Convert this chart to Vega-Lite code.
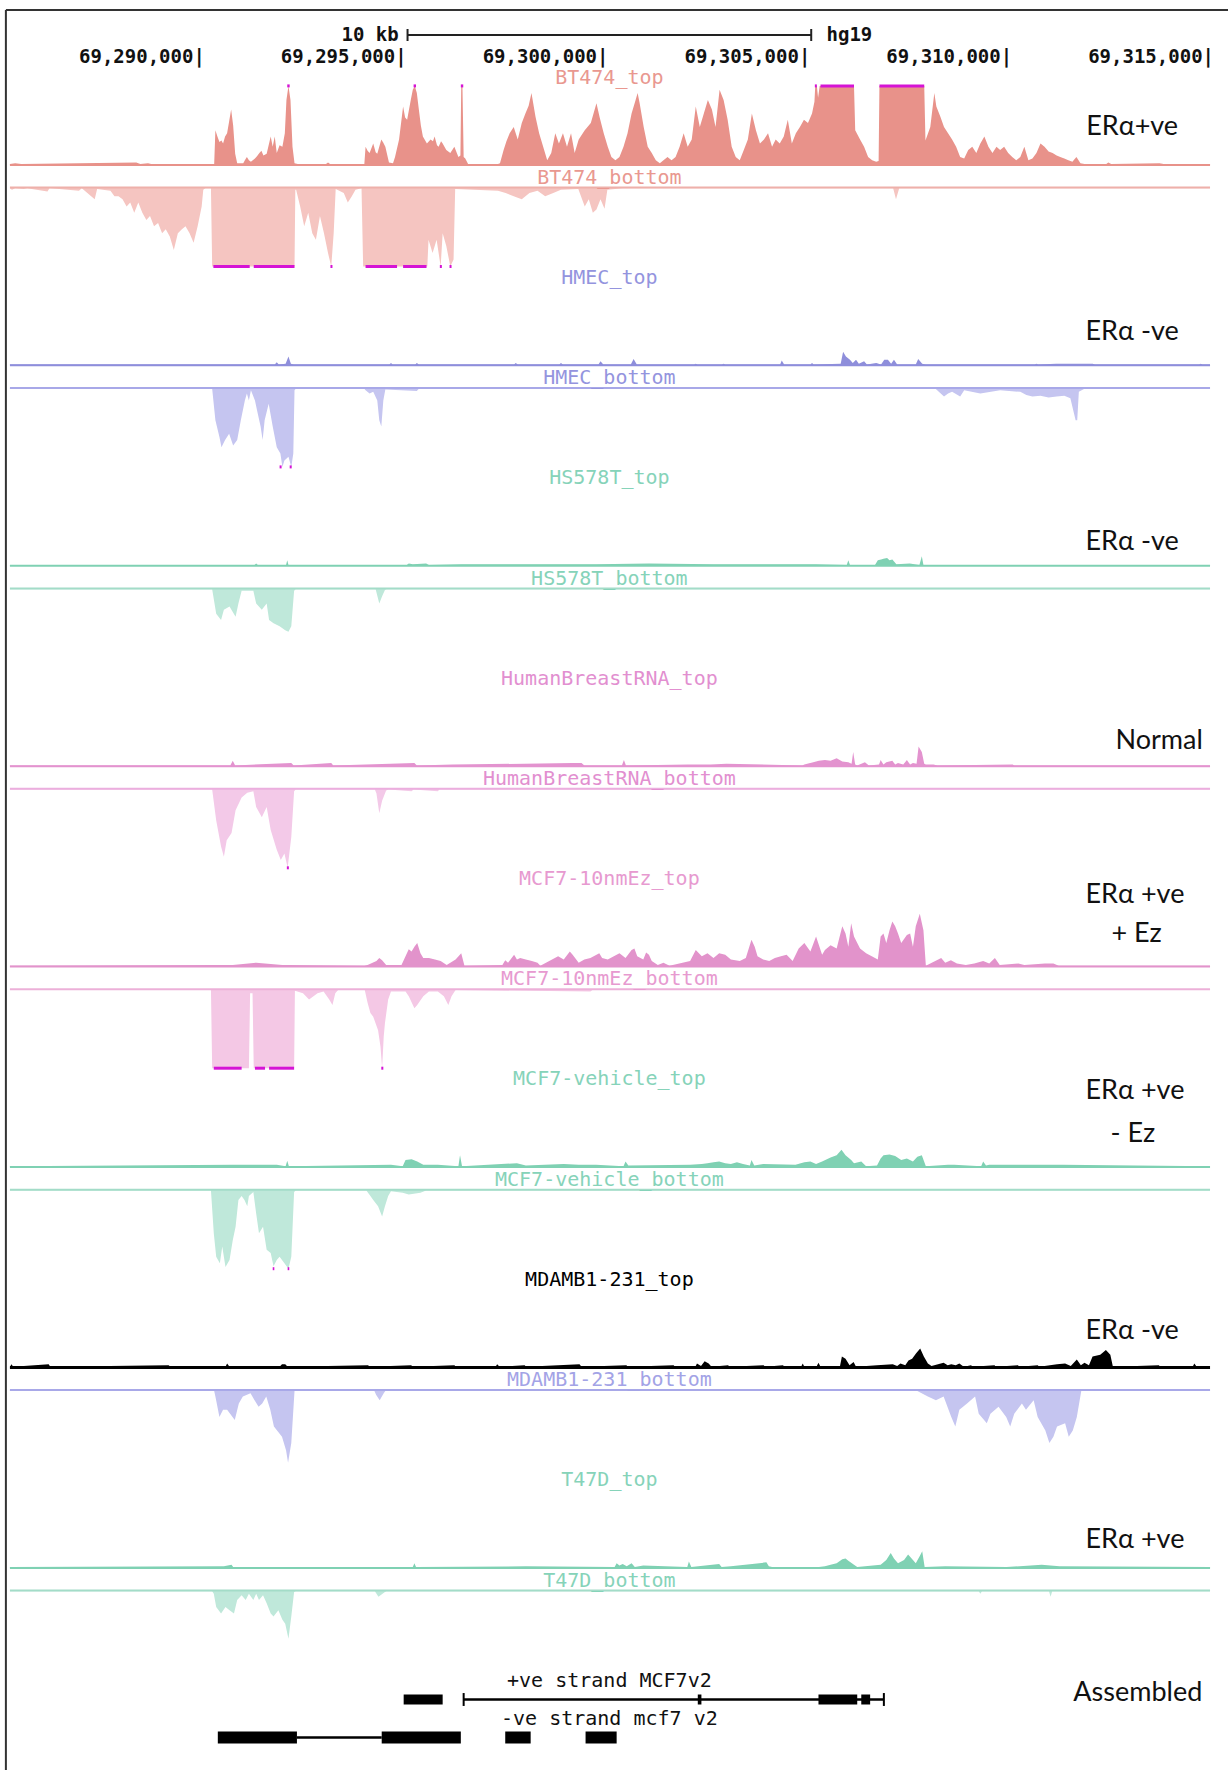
{
"$schema": "https://vega.github.io/schema/vega-lite/v6.json",
"width": 1229, "height": 1771,
"autosize": {"type": "fit", "contains": "padding"},
"padding": 0,
"background": "white",
"config": {"view": {"stroke": null}},
"datasets": {
"bt_t": [{"p":69285.32,"v":1},{"p":69285.45,"v":2},{"p":69285.6,"v":1},{"p":69288.45,"v":3},{"p":69288.55,"v":1},{"p":69288.74,"v":2},{"p":69288.82,"v":1},{"p":69290.38,"v":1},{"p":69290.41,"v":44},{"p":69290.46,"v":36},{"p":69290.51,"v":29},{"p":69290.56,"v":31},{"p":69290.6,"v":27},{"p":69290.65,"v":36},{"p":69290.7,"v":40},{"p":69290.75,"v":55},{"p":69290.8,"v":70},{"p":69290.85,"v":50},{"p":69290.9,"v":14},{"p":69290.95,"v":2},{"p":69291.1,"v":2},{"p":69291.14,"v":6},{"p":69291.19,"v":10},{"p":69291.24,"v":6},{"p":69291.29,"v":4},{"p":69291.39,"v":8},{"p":69291.44,"v":11},{"p":69291.5,"v":15},{"p":69291.55,"v":18},{"p":69291.6,"v":12},{"p":69291.68,"v":14},{"p":69291.78,"v":36},{"p":69291.83,"v":23},{"p":69291.88,"v":36},{"p":69291.93,"v":15},{"p":69292,"v":25},{"p":69292.07,"v":23},{"p":69292.13,"v":40},{"p":69292.17,"v":82},{"p":69292.22,"v":100},{"p":69292.27,"v":82},{"p":69292.32,"v":23},{"p":69292.37,"v":2},{"p":69292.45,"v":1},{"p":69293.15,"v":1},{"p":69293.2,"v":3},{"p":69293.25,"v":1},{"p":69294.1,"v":1},{"p":69294.13,"v":23},{"p":69294.18,"v":18},{"p":69294.23,"v":15},{"p":69294.32,"v":27},{"p":69294.38,"v":16},{"p":69294.42,"v":14},{"p":69294.52,"v":32},{"p":69294.57,"v":28},{"p":69294.62,"v":23},{"p":69294.71,"v":3},{"p":69294.81,"v":2},{"p":69294.86,"v":10},{"p":69294.96,"v":32},{"p":69295.06,"v":74},{"p":69295.11,"v":60},{"p":69295.16,"v":57},{"p":69295.25,"v":82},{"p":69295.3,"v":95},{"p":69295.35,"v":100},{"p":69295.4,"v":91},{"p":69295.45,"v":70},{"p":69295.5,"v":50},{"p":69295.55,"v":36},{"p":69295.65,"v":27},{"p":69295.74,"v":32},{"p":69295.8,"v":30},{"p":69295.84,"v":36},{"p":69295.9,"v":25},{"p":69295.94,"v":23},{"p":69296,"v":30},{"p":69296.04,"v":27},{"p":69296.13,"v":19},{"p":69296.23,"v":15},{"p":69296.33,"v":23},{"p":69296.43,"v":10},{"p":69296.48,"v":12},{"p":69296.5,"v":100},{"p":69296.53,"v":100},{"p":69296.56,"v":10},{"p":69296.6,"v":8},{"p":69296.67,"v":1},{"p":69297.41,"v":1},{"p":69297.46,"v":2},{"p":69297.55,"v":19},{"p":69297.62,"v":30},{"p":69297.7,"v":40},{"p":69297.8,"v":48},{"p":69297.9,"v":32},{"p":69298,"v":53},{"p":69298.09,"v":65},{"p":69298.17,"v":75},{"p":69298.24,"v":91},{"p":69298.34,"v":61},{"p":69298.43,"v":40},{"p":69298.53,"v":23},{"p":69298.63,"v":6},{"p":69298.73,"v":15},{"p":69298.83,"v":40},{"p":69298.92,"v":27},{"p":69299.02,"v":40},{"p":69299.12,"v":23},{"p":69299.22,"v":40},{"p":69299.31,"v":15},{"p":69299.41,"v":32},{"p":69299.56,"v":44},{"p":69299.71,"v":53},{"p":69299.85,"v":78},{"p":69299.93,"v":60},{"p":69300.03,"v":40},{"p":69300.13,"v":23},{"p":69300.22,"v":10},{"p":69300.32,"v":6},{"p":69300.42,"v":10},{"p":69300.52,"v":23},{"p":69300.62,"v":40},{"p":69300.72,"v":65},{"p":69300.82,"v":82},{"p":69300.87,"v":91},{"p":69300.92,"v":78},{"p":69301.02,"v":48},{"p":69301.12,"v":23},{"p":69301.22,"v":15},{"p":69301.32,"v":6},{"p":69301.42,"v":2},{"p":69301.51,"v":6},{"p":69301.61,"v":10},{"p":69301.71,"v":6},{"p":69301.81,"v":10},{"p":69301.91,"v":23},{"p":69302.01,"v":40},{"p":69302.11,"v":23},{"p":69302.21,"v":32},{"p":69302.31,"v":74},{"p":69302.41,"v":48},{"p":69302.51,"v":65},{"p":69302.61,"v":82},{"p":69302.71,"v":70},{"p":69302.8,"v":48},{"p":69302.9,"v":95},{"p":69303,"v":82},{"p":69303.1,"v":57},{"p":69303.2,"v":23},{"p":69303.3,"v":10},{"p":69303.4,"v":6},{"p":69303.5,"v":19},{"p":69303.6,"v":32},{"p":69303.7,"v":65},{"p":69303.8,"v":44},{"p":69303.9,"v":27},{"p":69304,"v":32},{"p":69304.1,"v":40},{"p":69304.2,"v":23},{"p":69304.29,"v":32},{"p":69304.39,"v":27},{"p":69304.49,"v":36},{"p":69304.59,"v":57},{"p":69304.69,"v":27},{"p":69304.79,"v":40},{"p":69304.89,"v":48},{"p":69304.99,"v":57},{"p":69305.09,"v":53},{"p":69305.19,"v":65},{"p":69305.25,"v":80},{"p":69305.27,"v":100},{"p":69305.31,"v":100},{"p":69305.34,"v":85},{"p":69305.38,"v":100},{"p":69306.23,"v":100},{"p":69306.26,"v":44},{"p":69306.38,"v":32},{"p":69306.48,"v":23},{"p":69306.58,"v":10},{"p":69306.68,"v":6},{"p":69306.78,"v":4},{"p":69306.84,"v":5},{"p":69306.86,"v":100},{"p":69307.97,"v":100},{"p":69308,"v":31},{"p":69308.12,"v":48},{"p":69308.22,"v":91},{"p":69308.27,"v":74},{"p":69308.37,"v":61},{"p":69308.46,"v":48},{"p":69308.56,"v":40},{"p":69308.66,"v":32},{"p":69308.76,"v":23},{"p":69308.86,"v":10},{"p":69308.96,"v":8},{"p":69309.06,"v":19},{"p":69309.16,"v":23},{"p":69309.26,"v":15},{"p":69309.36,"v":27},{"p":69309.46,"v":36},{"p":69309.56,"v":23},{"p":69309.66,"v":15},{"p":69309.76,"v":23},{"p":69309.85,"v":19},{"p":69309.95,"v":23},{"p":69310.05,"v":15},{"p":69310.15,"v":10},{"p":69310.25,"v":6},{"p":69310.35,"v":10},{"p":69310.45,"v":23},{"p":69310.55,"v":6},{"p":69310.65,"v":8},{"p":69310.75,"v":15},{"p":69310.85,"v":27},{"p":69310.95,"v":23},{"p":69311.05,"v":17},{"p":69311.15,"v":15},{"p":69311.25,"v":12},{"p":69311.34,"v":10},{"p":69311.44,"v":8},{"p":69311.54,"v":6},{"p":69311.64,"v":4},{"p":69311.74,"v":10},{"p":69311.84,"v":2},{"p":69311.94,"v":1},{"p":69312.48,"v":1},{"p":69312.53,"v":3},{"p":69312.6,"v":1},{"p":69313.8,"v":2},{"p":69313.9,"v":1},{"p":69315.05,"v":1}],
"bt_b": [{"p":69285.32,"v":1},{"p":69285.37,"v":3},{"p":69285.45,"v":1},{"p":69285.66,"v":2},{"p":69285.75,"v":1},{"p":69286.25,"v":5},{"p":69286.3,"v":1},{"p":69286.54,"v":2},{"p":69287.03,"v":4},{"p":69287.1,"v":1},{"p":69287.42,"v":15},{"p":69287.48,"v":2},{"p":69287.62,"v":3},{"p":69287.81,"v":4},{"p":69287.91,"v":11},{"p":69288.01,"v":11},{"p":69288.11,"v":15},{"p":69288.21,"v":24},{"p":69288.3,"v":19},{"p":69288.4,"v":32},{"p":69288.5,"v":19},{"p":69288.6,"v":32},{"p":69288.7,"v":41},{"p":69288.79,"v":36},{"p":69288.89,"v":49},{"p":69288.99,"v":45},{"p":69289.09,"v":58},{"p":69289.18,"v":53},{"p":69289.28,"v":62},{"p":69289.38,"v":79},{"p":69289.48,"v":58},{"p":69289.58,"v":53},{"p":69289.67,"v":49},{"p":69289.77,"v":58},{"p":69289.87,"v":70},{"p":69289.97,"v":49},{"p":69290.07,"v":24},{"p":69290.11,"v":3},{"p":69290.16,"v":1},{"p":69290.3,"v":1},{"p":69290.33,"v":100},{"p":69292.37,"v":100},{"p":69292.39,"v":3},{"p":69292.41,"v":3},{"p":69292.51,"v":24},{"p":69292.61,"v":49},{"p":69292.71,"v":32},{"p":69292.81,"v":58},{"p":69292.9,"v":66},{"p":69293,"v":36},{"p":69293.1,"v":58},{"p":69293.2,"v":83},{"p":69293.28,"v":100},{"p":69293.34,"v":58},{"p":69293.39,"v":2},{"p":69293.59,"v":7},{"p":69293.69,"v":19},{"p":69293.79,"v":11},{"p":69293.88,"v":3},{"p":69294.03,"v":1},{"p":69294.07,"v":100},{"p":69295.66,"v":100},{"p":69295.69,"v":66},{"p":69295.79,"v":83},{"p":69295.89,"v":66},{"p":69295.99,"v":100},{"p":69296.04,"v":58},{"p":69296.13,"v":74},{"p":69296.23,"v":100},{"p":69296.31,"v":91},{"p":69296.35,"v":2},{"p":69297.41,"v":4},{"p":69297.6,"v":7},{"p":69297.8,"v":11},{"p":69298,"v":15},{"p":69298.19,"v":7},{"p":69298.39,"v":4},{"p":69298.58,"v":11},{"p":69298.78,"v":7},{"p":69298.97,"v":3},{"p":69299.4,"v":2},{"p":69299.56,"v":24},{"p":69299.66,"v":15},{"p":69299.76,"v":32},{"p":69299.85,"v":28},{"p":69299.95,"v":15},{"p":69300.05,"v":27},{"p":69300.12,"v":3},{"p":69300.5,"v":1},{"p":69307.2,"v":1},{"p":69307.27,"v":15},{"p":69307.35,"v":1},{"p":69315.05,"v":1}],
"hm_t": [{"p":69285.32,"v":1},{"p":69291.88,"v":1},{"p":69291.93,"v":4},{"p":69291.98,"v":1},{"p":69292.15,"v":2},{"p":69292.22,"v":11},{"p":69292.28,"v":2},{"p":69292.35,"v":1},{"p":69294.72,"v":1},{"p":69294.76,"v":3},{"p":69294.8,"v":1},{"p":69295.36,"v":1},{"p":69295.4,"v":3},{"p":69295.45,"v":1},{"p":69297.81,"v":1},{"p":69297.85,"v":3},{"p":69297.9,"v":1},{"p":69298.93,"v":1},{"p":69298.97,"v":3},{"p":69299.02,"v":1},{"p":69299.9,"v":1},{"p":69299.95,"v":5},{"p":69300.02,"v":1},{"p":69300.7,"v":1},{"p":69300.77,"v":8},{"p":69300.85,"v":1},{"p":69302.27,"v":1},{"p":69302.31,"v":2},{"p":69302.35,"v":1},{"p":69302.96,"v":1},{"p":69303,"v":2},{"p":69303.04,"v":1},{"p":69304.4,"v":1},{"p":69304.44,"v":6},{"p":69304.5,"v":1},{"p":69305.15,"v":1},{"p":69305.19,"v":3},{"p":69305.23,"v":1},{"p":69305.9,"v":2},{"p":69305.96,"v":17},{"p":69306.03,"v":11},{"p":69306.13,"v":7},{"p":69306.2,"v":3},{"p":69306.28,"v":7},{"p":69306.35,"v":2},{"p":69306.48,"v":5},{"p":69306.55,"v":1},{"p":69306.78,"v":3},{"p":69306.9,"v":1},{"p":69306.98,"v":7},{"p":69307.07,"v":7},{"p":69307.15,"v":2},{"p":69307.22,"v":7},{"p":69307.3,"v":1},{"p":69307.76,"v":1},{"p":69307.82,"v":8},{"p":69307.92,"v":2},{"p":69308,"v":1},{"p":69309.36,"v":1},{"p":69310.71,"v":1},{"p":69310.75,"v":2},{"p":69310.79,"v":1},{"p":69311.24,"v":2},{"p":69311.74,"v":2},{"p":69312.14,"v":2},{"p":69312.2,"v":1},{"p":69314.78,"v":1},{"p":69314.82,"v":2},{"p":69314.86,"v":1},{"p":69315.05,"v":1}],
"hm_b": [{"p":69285.32,"v":1},{"p":69290.33,"v":1},{"p":69290.41,"v":41},{"p":69290.51,"v":62},{"p":69290.56,"v":75},{"p":69290.65,"v":66},{"p":69290.75,"v":58},{"p":69290.85,"v":73},{"p":69290.95,"v":66},{"p":69291.04,"v":41},{"p":69291.14,"v":16},{"p":69291.19,"v":7},{"p":69291.24,"v":16},{"p":69291.29,"v":3},{"p":69291.39,"v":16},{"p":69291.44,"v":28},{"p":69291.53,"v":49},{"p":69291.58,"v":66},{"p":69291.63,"v":41},{"p":69291.73,"v":20},{"p":69291.83,"v":49},{"p":69291.93,"v":75},{"p":69292.02,"v":83},{"p":69292.07,"v":100},{"p":69292.12,"v":92},{"p":69292.22,"v":87},{"p":69292.29,"v":100},{"p":69292.34,"v":83},{"p":69292.37,"v":3},{"p":69292.4,"v":1},{"p":69294.1,"v":1},{"p":69294.13,"v":3},{"p":69294.23,"v":7},{"p":69294.32,"v":5},{"p":69294.42,"v":16},{"p":69294.47,"v":41},{"p":69294.52,"v":49},{"p":69294.57,"v":16},{"p":69294.62,"v":2},{"p":69295.4,"v":4},{"p":69295.45,"v":1},{"p":69308.25,"v":1},{"p":69308.46,"v":11},{"p":69308.56,"v":7},{"p":69308.66,"v":5},{"p":69308.86,"v":11},{"p":69308.96,"v":3},{"p":69309.36,"v":7},{"p":69309.85,"v":3},{"p":69310.35,"v":5},{"p":69310.5,"v":9},{"p":69310.65,"v":11},{"p":69310.85,"v":10},{"p":69311.05,"v":12},{"p":69311.25,"v":11},{"p":69311.44,"v":10},{"p":69311.59,"v":13},{"p":69311.72,"v":41},{"p":69311.76,"v":41},{"p":69311.8,"v":5},{"p":69311.94,"v":1},{"p":69315.05,"v":1}],
"hs_t": [{"p":69285.32,"v":1},{"p":69291.38,"v":1},{"p":69291.42,"v":3},{"p":69291.46,"v":1},{"p":69292.16,"v":1},{"p":69292.19,"v":7},{"p":69292.22,"v":1},{"p":69295.15,"v":1},{"p":69295.2,"v":3},{"p":69295.3,"v":2},{"p":69295.63,"v":3},{"p":69295.7,"v":1},{"p":69296.5,"v":2},{"p":69298.46,"v":2},{"p":69299.84,"v":2},{"p":69301.15,"v":3},{"p":69302.75,"v":2},{"p":69303.69,"v":2},{"p":69305.29,"v":2},{"p":69306.05,"v":1},{"p":69306.09,"v":7},{"p":69306.13,"v":1},{"p":69306.75,"v":1},{"p":69306.82,"v":7},{"p":69306.9,"v":8},{"p":69306.96,"v":9},{"p":69307.05,"v":10},{"p":69307.11,"v":7},{"p":69307.18,"v":8},{"p":69307.28,"v":2},{"p":69307.61,"v":3},{"p":69307.85,"v":1},{"p":69307.91,"v":12},{"p":69307.95,"v":1},{"p":69315.05,"v":1}],
"hs_b": [{"p":69285.32,"v":1},{"p":69290.33,"v":1},{"p":69290.43,"v":32},{"p":69290.55,"v":40},{"p":69290.62,"v":27},{"p":69290.76,"v":23},{"p":69290.91,"v":36},{"p":69290.98,"v":19},{"p":69291.06,"v":3},{"p":69291.35,"v":3},{"p":69291.42,"v":19},{"p":69291.56,"v":27},{"p":69291.68,"v":19},{"p":69291.74,"v":40},{"p":69291.85,"v":44},{"p":69292,"v":48},{"p":69292.14,"v":53},{"p":69292.22,"v":55},{"p":69292.29,"v":48},{"p":69292.36,"v":3},{"p":69292.4,"v":1},{"p":69294.38,"v":1},{"p":69294.47,"v":19},{"p":69294.54,"v":10},{"p":69294.61,"v":2},{"p":69294.65,"v":1},{"p":69315.05,"v":1}],
"hb_t": [{"p":69285.32,"v":1},{"p":69290.78,"v":1},{"p":69290.84,"v":7},{"p":69290.9,"v":1},{"p":69292.29,"v":4},{"p":69292.35,"v":1},{"p":69293.28,"v":4},{"p":69293.33,"v":1},{"p":69295.34,"v":4},{"p":69295.4,"v":1},{"p":69296.29,"v":2},{"p":69299.26,"v":4},{"p":69299.48,"v":4},{"p":69299.55,"v":1},{"p":69300.48,"v":1},{"p":69300.53,"v":8},{"p":69300.58,"v":1},{"p":69302.12,"v":2},{"p":69302.68,"v":2},{"p":69303.07,"v":3},{"p":69304.95,"v":1},{"p":69305,"v":2},{"p":69305.36,"v":7},{"p":69305.51,"v":8},{"p":69305.65,"v":7},{"p":69305.8,"v":10},{"p":69305.94,"v":6},{"p":69306.09,"v":5},{"p":69306.17,"v":3},{"p":69306.21,"v":18},{"p":69306.26,"v":2},{"p":69306.31,"v":1},{"p":69306.5,"v":5},{"p":69306.6,"v":1},{"p":69306.85,"v":2},{"p":69306.89,"v":8},{"p":69306.96,"v":2},{"p":69307.03,"v":5},{"p":69307.18,"v":7},{"p":69307.25,"v":2},{"p":69307.32,"v":4},{"p":69307.45,"v":2},{"p":69307.54,"v":8},{"p":69307.62,"v":2},{"p":69307.69,"v":4},{"p":69307.78,"v":3},{"p":69307.83,"v":25},{"p":69307.91,"v":18},{"p":69307.97,"v":3},{"p":69308.01,"v":2},{"p":69308.2,"v":2},{"p":69308.3,"v":1},{"p":69310.16,"v":2},{"p":69310.2,"v":1},{"p":69315.05,"v":1}],
"hb_b": [{"p":69285.32,"v":1},{"p":69290.33,"v":1},{"p":69290.43,"v":40},{"p":69290.55,"v":73},{"p":69290.62,"v":86},{"p":69290.69,"v":65},{"p":69290.81,"v":56},{"p":69290.91,"v":27},{"p":69291.06,"v":11},{"p":69291.2,"v":5},{"p":69291.35,"v":3},{"p":69291.42,"v":23},{"p":69291.56,"v":36},{"p":69291.68,"v":23},{"p":69291.78,"v":52},{"p":69291.93,"v":77},{"p":69292.03,"v":90},{"p":69292.12,"v":82},{"p":69292.2,"v":100},{"p":69292.29,"v":61},{"p":69292.36,"v":3},{"p":69292.4,"v":1},{"p":69294.36,"v":1},{"p":69294.4,"v":6},{"p":69294.47,"v":31},{"p":69294.54,"v":15},{"p":69294.64,"v":2},{"p":69294.7,"v":1},{"p":69295.27,"v":3},{"p":69295.32,"v":1},{"p":69295.92,"v":3},{"p":69295.96,"v":1},{"p":69315.05,"v":1}],
"ez_t": [{"p":69285.32,"v":1},{"p":69290.4,"v":2},{"p":69290.84,"v":2},{"p":69291.42,"v":5},{"p":69292.07,"v":2},{"p":69292.22,"v":2},{"p":69294.1,"v":1},{"p":69294.18,"v":2},{"p":69294.4,"v":7},{"p":69294.47,"v":11},{"p":69294.54,"v":8},{"p":69294.64,"v":2},{"p":69295.02,"v":2},{"p":69295.12,"v":13},{"p":69295.2,"v":22},{"p":69295.27,"v":19},{"p":69295.34,"v":25},{"p":69295.41,"v":30},{"p":69295.49,"v":17},{"p":69295.56,"v":11},{"p":69295.7,"v":11},{"p":69295.85,"v":9},{"p":69295.99,"v":7},{"p":69296.14,"v":2},{"p":69296.36,"v":9},{"p":69296.5,"v":17},{"p":69296.58,"v":1},{"p":69297.52,"v":2},{"p":69297.59,"v":8},{"p":69297.66,"v":5},{"p":69297.81,"v":15},{"p":69297.88,"v":9},{"p":69297.96,"v":11},{"p":69298.1,"v":9},{"p":69298.25,"v":7},{"p":69298.39,"v":5},{"p":69298.46,"v":1},{"p":69298.75,"v":9},{"p":69298.9,"v":13},{"p":69299.04,"v":9},{"p":69299.19,"v":19},{"p":69299.26,"v":15},{"p":69299.41,"v":5},{"p":69299.55,"v":9},{"p":69299.7,"v":11},{"p":69299.92,"v":17},{"p":69299.99,"v":11},{"p":69300.13,"v":9},{"p":69300.28,"v":13},{"p":69300.42,"v":17},{"p":69300.57,"v":11},{"p":69300.72,"v":21},{"p":69300.79,"v":23},{"p":69300.86,"v":13},{"p":69301.01,"v":9},{"p":69301.08,"v":18},{"p":69301.15,"v":15},{"p":69301.22,"v":7},{"p":69301.37,"v":2},{"p":69301.51,"v":5},{"p":69301.66,"v":1},{"p":69302.17,"v":7},{"p":69302.31,"v":21},{"p":69302.46,"v":13},{"p":69302.6,"v":17},{"p":69302.75,"v":11},{"p":69302.89,"v":17},{"p":69303.04,"v":15},{"p":69303.18,"v":9},{"p":69303.4,"v":7},{"p":69303.55,"v":11},{"p":69303.69,"v":34},{"p":69303.77,"v":25},{"p":69303.84,"v":13},{"p":69303.98,"v":9},{"p":69304.13,"v":7},{"p":69304.27,"v":11},{"p":69304.42,"v":13},{"p":69304.56,"v":15},{"p":69304.71,"v":7},{"p":69304.86,"v":23},{"p":69305,"v":30},{"p":69305.15,"v":19},{"p":69305.29,"v":38},{"p":69305.44,"v":15},{"p":69305.51,"v":21},{"p":69305.65,"v":27},{"p":69305.8,"v":23},{"p":69305.94,"v":51},{"p":69306.02,"v":42},{"p":69306.09,"v":25},{"p":69306.16,"v":55},{"p":69306.23,"v":38},{"p":69306.38,"v":23},{"p":69306.53,"v":17},{"p":69306.67,"v":13},{"p":69306.82,"v":9},{"p":69306.89,"v":38},{"p":69306.96,"v":42},{"p":69307.03,"v":30},{"p":69307.11,"v":46},{"p":69307.18,"v":57},{"p":69307.25,"v":51},{"p":69307.32,"v":42},{"p":69307.4,"v":30},{"p":69307.54,"v":40},{"p":69307.62,"v":42},{"p":69307.69,"v":25},{"p":69307.76,"v":51},{"p":69307.86,"v":67},{"p":69307.95,"v":46},{"p":69308.01,"v":1},{"p":69308.39,"v":11},{"p":69308.49,"v":5},{"p":69308.63,"v":8},{"p":69308.78,"v":4},{"p":69309,"v":2},{"p":69309.21,"v":4},{"p":69309.43,"v":7},{"p":69309.58,"v":4},{"p":69309.72,"v":11},{"p":69309.84,"v":2},{"p":69310.3,"v":4},{"p":69310.45,"v":2},{"p":69310.96,"v":4},{"p":69311.17,"v":4},{"p":69311.3,"v":1},{"p":69315.05,"v":1}],
"ez_b": [{"p":69285.32,"v":1},{"p":69290.3,"v":1},{"p":69290.33,"v":100},{"p":69291.24,"v":100},{"p":69291.27,"v":5},{"p":69291.33,"v":5},{"p":69291.36,"v":100},{"p":69292.36,"v":100},{"p":69292.38,"v":2},{"p":69292.58,"v":5},{"p":69292.73,"v":13},{"p":69292.84,"v":9},{"p":69292.94,"v":5},{"p":69293.09,"v":3},{"p":69293.23,"v":13},{"p":69293.31,"v":20},{"p":69293.38,"v":5},{"p":69293.45,"v":1},{"p":69294.11,"v":1},{"p":69294.18,"v":17},{"p":69294.25,"v":30},{"p":69294.32,"v":35},{"p":69294.44,"v":52},{"p":69294.5,"v":73},{"p":69294.54,"v":100},{"p":69294.58,"v":60},{"p":69294.61,"v":43},{"p":69294.69,"v":13},{"p":69294.76,"v":3},{"p":69295.12,"v":3},{"p":69295.2,"v":9},{"p":69295.34,"v":24},{"p":69295.41,"v":20},{"p":69295.56,"v":9},{"p":69295.7,"v":3},{"p":69295.92,"v":3},{"p":69296.07,"v":9},{"p":69296.18,"v":20},{"p":69296.26,"v":9},{"p":69296.36,"v":1},{"p":69299.7,"v":3},{"p":69299.75,"v":1},{"p":69315.05,"v":1}],
"ve_t": [{"p":69285.32,"v":1},{"p":69290.84,"v":3},{"p":69291.35,"v":3},{"p":69291.93,"v":3},{"p":69292.15,"v":1},{"p":69292.19,"v":8},{"p":69292.23,"v":1},{"p":69294.76,"v":3},{"p":69295.05,"v":1},{"p":69295.12,"v":9},{"p":69295.27,"v":10},{"p":69295.41,"v":7},{"p":69295.56,"v":3},{"p":69295.92,"v":3},{"p":69296.43,"v":1},{"p":69296.47,"v":15},{"p":69296.52,"v":1},{"p":69297.88,"v":5},{"p":69298.1,"v":2},{"p":69299.04,"v":4},{"p":69299.41,"v":3},{"p":69299.7,"v":3},{"p":69299.84,"v":3},{"p":69300.52,"v":1},{"p":69300.57,"v":7},{"p":69300.64,"v":2},{"p":69302.17,"v":3},{"p":69302.46,"v":4},{"p":69302.6,"v":5},{"p":69302.75,"v":6},{"p":69302.89,"v":7},{"p":69303.04,"v":5},{"p":69303.18,"v":4},{"p":69303.33,"v":6},{"p":69303.48,"v":4},{"p":69303.65,"v":2},{"p":69303.69,"v":9},{"p":69303.76,"v":2},{"p":69303.98,"v":4},{"p":69304.78,"v":3},{"p":69305,"v":6},{"p":69305.15,"v":7},{"p":69305.29,"v":4},{"p":69305.44,"v":7},{"p":69305.65,"v":12},{"p":69305.8,"v":15},{"p":69305.92,"v":22},{"p":69306.02,"v":15},{"p":69306.16,"v":9},{"p":69306.23,"v":5},{"p":69306.41,"v":7},{"p":69306.53,"v":1},{"p":69306.8,"v":2},{"p":69306.89,"v":11},{"p":69306.96,"v":15},{"p":69307.11,"v":16},{"p":69307.25,"v":14},{"p":69307.4,"v":9},{"p":69307.54,"v":11},{"p":69307.69,"v":7},{"p":69307.8,"v":13},{"p":69307.91,"v":15},{"p":69308.01,"v":1},{"p":69308.56,"v":3},{"p":69308.71,"v":3},{"p":69309.38,"v":1},{"p":69309.43,"v":7},{"p":69309.5,"v":2},{"p":69309.58,"v":3},{"p":69311.39,"v":3},{"p":69315.05,"v":1}],
"ve_b": [{"p":69285.32,"v":1},{"p":69290.3,"v":1},{"p":69290.37,"v":55},{"p":69290.43,"v":85},{"p":69290.52,"v":93},{"p":69290.58,"v":72},{"p":69290.66,"v":98},{"p":69290.76,"v":89},{"p":69290.84,"v":64},{"p":69290.91,"v":47},{"p":69290.98,"v":13},{"p":69291.06,"v":8},{"p":69291.13,"v":13},{"p":69291.2,"v":21},{"p":69291.24,"v":8},{"p":69291.35,"v":3},{"p":69291.42,"v":30},{"p":69291.49,"v":55},{"p":69291.59,"v":47},{"p":69291.68,"v":76},{"p":69291.78,"v":80},{"p":69291.85,"v":97},{"p":69291.93,"v":89},{"p":69292,"v":85},{"p":69292.12,"v":93},{"p":69292.22,"v":100},{"p":69292.29,"v":85},{"p":69292.36,"v":3},{"p":69292.4,"v":1},{"p":69294.15,"v":1},{"p":69294.25,"v":8},{"p":69294.32,"v":13},{"p":69294.44,"v":21},{"p":69294.54,"v":34},{"p":69294.61,"v":21},{"p":69294.69,"v":8},{"p":69294.76,"v":2},{"p":69295.05,"v":4},{"p":69295.2,"v":6},{"p":69295.49,"v":4},{"p":69295.63,"v":1},{"p":69315.05,"v":1}],
"md_t": [{"p":69285.32,"v":1},{"p":69285.36,"v":4},{"p":69285.4,"v":1},{"p":69286.28,"v":4},{"p":69286.32,"v":1},{"p":69289.25,"v":3},{"p":69289.3,"v":1},{"p":69290.66,"v":1},{"p":69290.7,"v":5},{"p":69290.76,"v":1},{"p":69292,"v":1},{"p":69292.06,"v":4},{"p":69292.14,"v":4},{"p":69292.2,"v":1},{"p":69294.19,"v":3},{"p":69294.24,"v":1},{"p":69295.26,"v":3},{"p":69295.3,"v":1},{"p":69296.33,"v":3},{"p":69296.37,"v":1},{"p":69297.35,"v":1},{"p":69297.39,"v":4},{"p":69297.45,"v":1},{"p":69298.07,"v":3},{"p":69298.11,"v":1},{"p":69299.43,"v":4},{"p":69299.48,"v":1},{"p":69300.59,"v":3},{"p":69300.63,"v":1},{"p":69301.76,"v":3},{"p":69301.8,"v":1},{"p":69302.3,"v":1},{"p":69302.34,"v":5},{"p":69302.44,"v":2},{"p":69302.53,"v":8},{"p":69302.63,"v":5},{"p":69302.7,"v":1},{"p":69303.11,"v":3},{"p":69303.15,"v":1},{"p":69303.99,"v":3},{"p":69304.03,"v":1},{"p":69304.47,"v":3},{"p":69304.51,"v":1},{"p":69304.92,"v":1},{"p":69304.96,"v":5},{"p":69305,"v":1},{"p":69305.3,"v":1},{"p":69305.35,"v":6},{"p":69305.4,"v":1},{"p":69305.88,"v":1},{"p":69305.93,"v":14},{"p":69306.02,"v":11},{"p":69306.12,"v":3},{"p":69306.22,"v":7},{"p":69306.28,"v":1},{"p":69306.8,"v":3},{"p":69307.19,"v":4},{"p":69307.3,"v":2},{"p":69307.38,"v":5},{"p":69307.5,"v":3},{"p":69307.58,"v":9},{"p":69307.67,"v":11},{"p":69307.77,"v":18},{"p":69307.87,"v":24},{"p":69307.96,"v":14},{"p":69308.06,"v":5},{"p":69308.15,"v":2},{"p":69308.45,"v":6},{"p":69308.55,"v":3},{"p":69308.64,"v":4},{"p":69308.75,"v":3},{"p":69308.84,"v":5},{"p":69308.95,"v":1},{"p":69309.13,"v":3},{"p":69309.17,"v":1},{"p":69309.71,"v":3},{"p":69309.75,"v":1},{"p":69310.29,"v":3},{"p":69310.33,"v":1},{"p":69310.78,"v":3},{"p":69310.82,"v":1},{"p":69311.26,"v":4},{"p":69311.46,"v":5},{"p":69311.6,"v":2},{"p":69311.75,"v":10},{"p":69311.85,"v":3},{"p":69311.94,"v":6},{"p":69312.05,"v":3},{"p":69312.14,"v":14},{"p":69312.33,"v":16},{"p":69312.47,"v":22},{"p":69312.58,"v":16},{"p":69312.64,"v":2},{"p":69312.7,"v":1},{"p":69313.78,"v":3},{"p":69313.82,"v":1},{"p":69314.62,"v":1},{"p":69314.66,"v":5},{"p":69314.72,"v":1},{"p":69315.05,"v":1}],
"md_b": [{"p":69285.32,"v":1},{"p":69290.38,"v":1},{"p":69290.41,"v":8},{"p":69290.51,"v":34},{"p":69290.6,"v":25},{"p":69290.7,"v":25},{"p":69290.89,"v":38},{"p":69290.99,"v":17},{"p":69291.09,"v":8},{"p":69291.28,"v":4},{"p":69291.38,"v":13},{"p":69291.48,"v":21},{"p":69291.57,"v":17},{"p":69291.67,"v":8},{"p":69291.77,"v":25},{"p":69291.86,"v":46},{"p":69292.06,"v":59},{"p":69292.16,"v":76},{"p":69292.21,"v":92},{"p":69292.29,"v":67},{"p":69292.37,"v":1},{"p":69294.35,"v":1},{"p":69294.39,"v":6},{"p":69294.48,"v":13},{"p":69294.58,"v":4},{"p":69294.62,"v":1},{"p":69307.8,"v":1},{"p":69307.87,"v":3},{"p":69308.06,"v":8},{"p":69308.26,"v":13},{"p":69308.45,"v":8},{"p":69308.64,"v":34},{"p":69308.74,"v":46},{"p":69308.84,"v":25},{"p":69309.03,"v":17},{"p":69309.23,"v":8},{"p":69309.32,"v":30},{"p":69309.52,"v":42},{"p":69309.61,"v":30},{"p":69309.81,"v":21},{"p":69310,"v":34},{"p":69310.1,"v":46},{"p":69310.2,"v":30},{"p":69310.39,"v":17},{"p":69310.49,"v":25},{"p":69310.68,"v":13},{"p":69310.78,"v":34},{"p":69310.97,"v":51},{"p":69311.07,"v":67},{"p":69311.17,"v":59},{"p":69311.26,"v":46},{"p":69311.46,"v":42},{"p":69311.55,"v":59},{"p":69311.65,"v":51},{"p":69311.75,"v":34},{"p":69311.86,"v":1},{"p":69315.05,"v":1}],
"t4_t": [{"p":69285.32,"v":1},{"p":69290.62,"v":2},{"p":69290.81,"v":4},{"p":69290.85,"v":1},{"p":69295.3,"v":1},{"p":69295.34,"v":6},{"p":69295.38,"v":1},{"p":69298.1,"v":2},{"p":69300.3,"v":1},{"p":69300.35,"v":6},{"p":69300.42,"v":3},{"p":69300.5,"v":5},{"p":69300.6,"v":2},{"p":69300.72,"v":6},{"p":69300.8,"v":1},{"p":69301.01,"v":3},{"p":69302.1,"v":1},{"p":69302.14,"v":8},{"p":69302.2,"v":1},{"p":69302.89,"v":5},{"p":69302.95,"v":1},{"p":69303.18,"v":2},{"p":69304.06,"v":7},{"p":69304.12,"v":2},{"p":69304.2,"v":1},{"p":69305.36,"v":1},{"p":69305.51,"v":2},{"p":69305.65,"v":4},{"p":69305.8,"v":6},{"p":69305.94,"v":11},{"p":69306.02,"v":12},{"p":69306.09,"v":9},{"p":69306.23,"v":4},{"p":69306.31,"v":1},{"p":69306.89,"v":4},{"p":69307.03,"v":10},{"p":69307.14,"v":19},{"p":69307.22,"v":12},{"p":69307.32,"v":6},{"p":69307.47,"v":10},{"p":69307.57,"v":17},{"p":69307.69,"v":10},{"p":69307.76,"v":6},{"p":69307.86,"v":15},{"p":69307.92,"v":21},{"p":69307.98,"v":1},{"p":69308.49,"v":2},{"p":69310.01,"v":1},{"p":69310.88,"v":4},{"p":69311.32,"v":2},{"p":69315.05,"v":1}],
"t4_b": [{"p":69285.32,"v":1},{"p":69290.33,"v":1},{"p":69290.37,"v":4},{"p":69290.43,"v":21},{"p":69290.55,"v":29},{"p":69290.66,"v":21},{"p":69290.76,"v":25},{"p":69290.87,"v":29},{"p":69290.95,"v":12},{"p":69291.06,"v":6},{"p":69291.16,"v":12},{"p":69291.24,"v":4},{"p":69291.35,"v":12},{"p":69291.42,"v":4},{"p":69291.49,"v":12},{"p":69291.59,"v":6},{"p":69291.68,"v":16},{"p":69291.78,"v":29},{"p":69291.85,"v":33},{"p":69291.97,"v":25},{"p":69292.07,"v":37},{"p":69292.14,"v":42},{"p":69292.22,"v":61},{"p":69292.29,"v":33},{"p":69292.36,"v":2},{"p":69292.4,"v":1},{"p":69294.36,"v":1},{"p":69294.45,"v":8},{"p":69294.61,"v":2},{"p":69294.65,"v":1},{"p":69309.32,"v":1},{"p":69309.36,"v":4},{"p":69309.4,"v":1},{"p":69311.06,"v":1},{"p":69311.1,"v":8},{"p":69311.14,"v":1},{"p":69315.05,"v":1}]
},
"encoding": {"x": {"field": "p", "type": "quantitative", "scale": {"domain": [69285.074, 69315.495], "nice": false, "zero": false}, "axis": null}},
"layer": [
{"encoding": {"y": {"field": "v", "type": "quantitative", "scale": {"domain": [0, 1], "range": [35, 60]}, "axis": null}},
 "layer": [
  {"data": {"values": [{"p": 69295.17, "p2": 69305.17, "v": 0}]}, "mark": {"type": "rule", "color": "#222222", "strokeWidth": 2}, "encoding": {"x2": {"field": "p2"}}},
  {"data": {"values": [{"p": 69295.17, "v": -0.24, "v2": 0.24}, {"p": 69305.17, "v": -0.24, "v2": 0.24}]}, "mark": {"type": "rule", "color": "#222222", "strokeWidth": 2}, "encoding": {"y2": {"field": "v2"}}},
  {"data": {"values": [{"p": 69294.95, "v": 0, "t": "10 kb"}]}, "mark": {"type": "text", "align": "right", "font": "DejaVu Sans Mono", "fontWeight": "bold", "fontSize": 19, "color": "#111111"}, "encoding": {"text": {"field": "t"}}},
  {"data": {"values": [{"p": 69305.55, "v": 0, "t": "hg19"}]}, "mark": {"type": "text", "align": "left", "font": "DejaVu Sans Mono", "fontWeight": "bold", "fontSize": 19, "color": "#111111"}, "encoding": {"text": {"field": "t"}}},
  {"data": {"values": [{"p": 69290, "v": 0.88, "t": "69,290,000|"}, {"p": 69295, "v": 0.88, "t": "69,295,000|"}, {"p": 69300, "v": 0.88, "t": "69,300,000|"}, {"p": 69305, "v": 0.88, "t": "69,305,000|"}, {"p": 69310, "v": 0.88, "t": "69,310,000|"}, {"p": 69315, "v": 0.88, "t": "69,315,000|"}]}, "mark": {"type": "text", "align": "right", "dx": 6, "font": "DejaVu Sans Mono", "fontWeight": "bold", "fontSize": 19, "color": "#111111"}, "encoding": {"text": {"field": "t"}}},
  {"data": {"values": [{"p": 69285.22, "p2": 69315.495, "v": -1}]}, "mark": {"type": "rule", "color": "#333333", "strokeWidth": 2}, "encoding": {"x2": {"field": "p2"}}},
  {"data": {"values": [{"p": 69285.22, "v": -1, "v2": 69.4}]}, "mark": {"type": "rule", "color": "#333333", "strokeWidth": 2}, "encoding": {"y2": {"field": "v2"}}}
 ]},
{"encoding": {"y": {"field": "v", "type": "quantitative", "scale": {"domain": [0, 100], "range": [164.9, 85.9]}, "axis": null}},
 "layer": [
  {"data": {"name": "bt_t"}, "mark": {"type": "area", "color": "#e8928a"}, "encoding": {"y2": {"datum": 0}}},
  {"data": {"values": [{"p": 69285.32, "p2": 69315.05, "v": 0}]}, "mark": {"type": "rule", "color": "#e8928a", "strokeWidth": 2}, "encoding": {"x2": {"field": "p2"}}},
  {"data": {"values": [{"p": 69292.19, "p2": 69292.25, "v": 100}, {"p": 69295.32, "p2": 69295.38, "v": 100}, {"p": 69296.49, "p2": 69296.55, "v": 100}, {"p": 69305.26, "p2": 69305.31, "v": 100}, {"p": 69305.4, "p2": 69306.23, "v": 100}, {"p": 69306.86, "p2": 69307.97, "v": 100}]}, "mark": {"type": "rule", "color": "#d514d5", "strokeWidth": 3}, "encoding": {"x2": {"field": "p2"}}},
  {"data": {"values": [{"p": 69300.17, "v": 110.6, "t": "BT474_top"}]}, "mark": {"type": "text", "color": "#e99890", "font": "DejaVu Sans Mono", "fontSize": 20}, "encoding": {"text": {"field": "t"}}},
  {"data": {"values": [{"p": 69313.12, "v": 48.6, "t": "ERα+ve"}]}, "mark": {"type": "text", "color": "#111111", "font": "Lato", "fontSize": 27}, "encoding": {"text": {"field": "t"}}}
 ]},
{"encoding": {"y": {"field": "v", "type": "quantitative", "scale": {"domain": [0, 100], "range": [187.5, 266.5]}, "axis": null}},
 "layer": [
  {"data": {"name": "bt_b"}, "mark": {"type": "area", "color": "#f5c5c1"}, "encoding": {"y2": {"datum": 0}}},
  {"data": {"values": [{"p": 69285.32, "p2": 69315.05, "v": 0}]}, "mark": {"type": "rule", "color": "#eeb0aa", "strokeWidth": 2}, "encoding": {"x2": {"field": "p2"}}},
  {"data": {"values": [{"p": 69290.36, "p2": 69291.26, "v": 100}, {"p": 69291.36, "p2": 69292.37, "v": 100}, {"p": 69293.26, "p2": 69293.31, "v": 100}, {"p": 69294.13, "p2": 69294.91, "v": 100}, {"p": 69295.06, "p2": 69295.64, "v": 100}, {"p": 69295.97, "p2": 69296.02, "v": 100}, {"p": 69296.21, "p2": 69296.26, "v": 100}]}, "mark": {"type": "rule", "color": "#d514d5", "strokeWidth": 3}, "encoding": {"x2": {"field": "p2"}}},
  {"data": {"values": [{"p": 69300.17, "v": -12.5, "t": "BT474_bottom"}]}, "mark": {"type": "text", "color": "#e99890", "font": "DejaVu Sans Mono", "fontSize": 20}, "encoding": {"text": {"field": "t"}}}
 ]},
{"encoding": {"y": {"field": "v", "type": "quantitative", "scale": {"domain": [0, 100], "range": [365.3, 286.3]}, "axis": null}},
 "layer": [
  {"data": {"name": "hm_t"}, "mark": {"type": "area", "color": "#8e8edb"}, "encoding": {"y2": {"datum": 0}}},
  {"data": {"values": [{"p": 69285.32, "p2": 69315.05, "v": 0}]}, "mark": {"type": "rule", "color": "#8e8edb", "strokeWidth": 2}, "encoding": {"x2": {"field": "p2"}}},
  {"data": {"values": [{"p": 69300.17, "v": 111, "t": "HMEC_top"}]}, "mark": {"type": "text", "color": "#9494de", "font": "DejaVu Sans Mono", "fontSize": 20}, "encoding": {"text": {"field": "t"}}},
  {"data": {"values": [{"p": 69313.12, "v": 42, "t": "ERα -ve"}]}, "mark": {"type": "text", "color": "#111111", "font": "Lato", "fontSize": 27}, "encoding": {"text": {"field": "t"}}}
 ]},
{"encoding": {"y": {"field": "v", "type": "quantitative", "scale": {"domain": [0, 100], "range": [387.9, 466.9]}, "axis": null}},
 "layer": [
  {"data": {"name": "hm_b"}, "mark": {"type": "area", "color": "#c5c5f0"}, "encoding": {"y2": {"datum": 0}}},
  {"data": {"values": [{"p": 69285.32, "p2": 69315.05, "v": 0}]}, "mark": {"type": "rule", "color": "#a8a8e8", "strokeWidth": 2}, "encoding": {"x2": {"field": "p2"}}},
  {"data": {"values": [{"p": 69292.0, "p2": 69292.05, "v": 100}, {"p": 69292.25, "p2": 69292.3, "v": 100}]}, "mark": {"type": "rule", "color": "#d514d5", "strokeWidth": 3}, "encoding": {"x2": {"field": "p2"}}},
  {"data": {"values": [{"p": 69300.17, "v": -12.5, "t": "HMEC_bottom"}]}, "mark": {"type": "text", "color": "#9494de", "font": "DejaVu Sans Mono", "fontSize": 20}, "encoding": {"text": {"field": "t"}}}
 ]},
{"encoding": {"y": {"field": "v", "type": "quantitative", "scale": {"domain": [0, 100], "range": [565.8, 486.8]}, "axis": null}},
 "layer": [
  {"data": {"name": "hs_t"}, "mark": {"type": "area", "color": "#7fd1b3"}, "encoding": {"y2": {"datum": 0}}},
  {"data": {"values": [{"p": 69285.32, "p2": 69315.05, "v": 0}]}, "mark": {"type": "rule", "color": "#7fd1b3", "strokeWidth": 2}, "encoding": {"x2": {"field": "p2"}}},
  {"data": {"values": [{"p": 69300.17, "v": 111, "t": "HS578T_top"}]}, "mark": {"type": "text", "color": "#86d3b9", "font": "DejaVu Sans Mono", "fontSize": 20}, "encoding": {"text": {"field": "t"}}},
  {"data": {"values": [{"p": 69313.12, "v": 29.9, "t": "ERα -ve"}]}, "mark": {"type": "text", "color": "#111111", "font": "Lato", "fontSize": 27}, "encoding": {"text": {"field": "t"}}}
 ]},
{"encoding": {"y": {"field": "v", "type": "quantitative", "scale": {"domain": [0, 100], "range": [588.4, 667.4]}, "axis": null}},
 "layer": [
  {"data": {"name": "hs_b"}, "mark": {"type": "area", "color": "#bfe8da"}, "encoding": {"y2": {"datum": 0}}},
  {"data": {"values": [{"p": 69285.32, "p2": 69315.05, "v": 0}]}, "mark": {"type": "rule", "color": "#a3dcc8", "strokeWidth": 2}, "encoding": {"x2": {"field": "p2"}}},
  {"data": {"values": [{"p": 69300.17, "v": -12.5, "t": "HS578T_bottom"}]}, "mark": {"type": "text", "color": "#86d3b9", "font": "DejaVu Sans Mono", "fontSize": 20}, "encoding": {"text": {"field": "t"}}}
 ]},
{"encoding": {"y": {"field": "v", "type": "quantitative", "scale": {"domain": [0, 100], "range": [766.2, 687.2]}, "axis": null}},
 "layer": [
  {"data": {"name": "hb_t"}, "mark": {"type": "area", "color": "#e393cf"}, "encoding": {"y2": {"datum": 0}}},
  {"data": {"values": [{"p": 69285.32, "p2": 69315.05, "v": 0}]}, "mark": {"type": "rule", "color": "#e393cf", "strokeWidth": 2}, "encoding": {"x2": {"field": "p2"}}},
  {"data": {"values": [{"p": 69300.17, "v": 111, "t": "HumanBreastRNA_top"}]}, "mark": {"type": "text", "color": "#e28fd0", "font": "DejaVu Sans Mono", "fontSize": 20}, "encoding": {"text": {"field": "t"}}},
  {"data": {"values": [{"p": 69313.79, "v": 31.9, "t": "Normal"}]}, "mark": {"type": "text", "color": "#111111", "font": "Lato", "fontSize": 27}, "encoding": {"text": {"field": "t"}}}
 ]},
{"encoding": {"y": {"field": "v", "type": "quantitative", "scale": {"domain": [0, 100], "range": [788.8, 867.8]}, "axis": null}},
 "layer": [
  {"data": {"name": "hb_b"}, "mark": {"type": "area", "color": "#f3c9e8"}, "encoding": {"y2": {"datum": 0}}},
  {"data": {"values": [{"p": 69285.32, "p2": 69315.05, "v": 0}]}, "mark": {"type": "rule", "color": "#ebaede", "strokeWidth": 2}, "encoding": {"x2": {"field": "p2"}}},
  {"data": {"values": [{"p": 69292.18, "p2": 69292.23, "v": 100}]}, "mark": {"type": "rule", "color": "#d514d5", "strokeWidth": 3}, "encoding": {"x2": {"field": "p2"}}},
  {"data": {"values": [{"p": 69300.17, "v": -12.5, "t": "HumanBreastRNA_bottom"}]}, "mark": {"type": "text", "color": "#e28fd0", "font": "DejaVu Sans Mono", "fontSize": 20}, "encoding": {"text": {"field": "t"}}}
 ]},
{"encoding": {"y": {"field": "v", "type": "quantitative", "scale": {"domain": [0, 100], "range": [966.6, 887.6]}, "axis": null}},
 "layer": [
  {"data": {"name": "ez_t"}, "mark": {"type": "area", "color": "#e293cb"}, "encoding": {"y2": {"datum": 0}}},
  {"data": {"values": [{"p": 69285.32, "p2": 69315.05, "v": 0}]}, "mark": {"type": "rule", "color": "#e293cb", "strokeWidth": 2}, "encoding": {"x2": {"field": "p2"}}},
  {"data": {"values": [{"p": 69300.17, "v": 111, "t": "MCF7-10nmEz_top"}]}, "mark": {"type": "text", "color": "#e79ad0", "font": "DejaVu Sans Mono", "fontSize": 20}, "encoding": {"text": {"field": "t"}}},
  {"data": {"values": [{"p": 69313.19, "v": 91, "t": "ERα +ve"}, {"p": 69313.23, "v": 41, "t": "+ Ez"}]}, "mark": {"type": "text", "color": "#111111", "font": "Lato", "fontSize": 27}, "encoding": {"text": {"field": "t"}}}
 ]},
{"encoding": {"y": {"field": "v", "type": "quantitative", "scale": {"domain": [0, 100], "range": [989.2, 1068.2]}, "axis": null}},
 "layer": [
  {"data": {"name": "ez_b"}, "mark": {"type": "area", "color": "#f4c8e5"}, "encoding": {"y2": {"datum": 0}}},
  {"data": {"values": [{"p": 69285.32, "p2": 69315.05, "v": 0}]}, "mark": {"type": "rule", "color": "#ecb0d8", "strokeWidth": 2}, "encoding": {"x2": {"field": "p2"}}},
  {"data": {"values": [{"p": 69290.37, "p2": 69291.06, "v": 100}, {"p": 69291.39, "p2": 69291.64, "v": 100}, {"p": 69291.74, "p2": 69292.36, "v": 100}, {"p": 69294.52, "p2": 69294.57, "v": 100}]}, "mark": {"type": "rule", "color": "#d514d5", "strokeWidth": 3}, "encoding": {"x2": {"field": "p2"}}},
  {"data": {"values": [{"p": 69300.17, "v": -12.5, "t": "MCF7-10nmEz_bottom"}]}, "mark": {"type": "text", "color": "#e79ad0", "font": "DejaVu Sans Mono", "fontSize": 20}, "encoding": {"text": {"field": "t"}}}
 ]},
{"encoding": {"y": {"field": "v", "type": "quantitative", "scale": {"domain": [0, 100], "range": [1167.1, 1088.1]}, "axis": null}},
 "layer": [
  {"data": {"name": "ve_t"}, "mark": {"type": "area", "color": "#7fd1b3"}, "encoding": {"y2": {"datum": 0}}},
  {"data": {"values": [{"p": 69285.32, "p2": 69315.05, "v": 0}]}, "mark": {"type": "rule", "color": "#7fd1b3", "strokeWidth": 2}, "encoding": {"x2": {"field": "p2"}}},
  {"data": {"values": [{"p": 69300.17, "v": 111, "t": "MCF7-vehicle_top"}]}, "mark": {"type": "text", "color": "#86d3b9", "font": "DejaVu Sans Mono", "fontSize": 20}, "encoding": {"text": {"field": "t"}}},
  {"data": {"values": [{"p": 69313.19, "v": 96, "t": "ERα +ve"}, {"p": 69313.14, "v": 41.8, "t": "- Ez"}]}, "mark": {"type": "text", "color": "#111111", "font": "Lato", "fontSize": 27}, "encoding": {"text": {"field": "t"}}}
 ]},
{"encoding": {"y": {"field": "v", "type": "quantitative", "scale": {"domain": [0, 100], "range": [1189.7, 1268.7]}, "axis": null}},
 "layer": [
  {"data": {"name": "ve_b"}, "mark": {"type": "area", "color": "#bfe8da"}, "encoding": {"y2": {"datum": 0}}},
  {"data": {"values": [{"p": 69285.32, "p2": 69315.05, "v": 0}]}, "mark": {"type": "rule", "color": "#a3dcc8", "strokeWidth": 2}, "encoding": {"x2": {"field": "p2"}}},
  {"data": {"values": [{"p": 69291.83, "p2": 69291.87, "v": 100}, {"p": 69292.2, "p2": 69292.24, "v": 100}]}, "mark": {"type": "rule", "color": "#d514d5", "strokeWidth": 3}, "encoding": {"x2": {"field": "p2"}}},
  {"data": {"values": [{"p": 69300.17, "v": -12.5, "t": "MCF7-vehicle_bottom"}]}, "mark": {"type": "text", "color": "#86d3b9", "font": "DejaVu Sans Mono", "fontSize": 20}, "encoding": {"text": {"field": "t"}}}
 ]},
{"encoding": {"y": {"field": "v", "type": "quantitative", "scale": {"domain": [0, 100], "range": [1367.5, 1288.5]}, "axis": null}},
 "layer": [
  {"data": {"name": "md_t"}, "mark": {"type": "area", "color": "#000000"}, "encoding": {"y2": {"datum": 0}}},
  {"data": {"values": [{"p": 69285.32, "p2": 69315.05, "v": 0}]}, "mark": {"type": "rule", "color": "#000000", "strokeWidth": 3}, "encoding": {"x2": {"field": "p2"}}},
  {"data": {"values": [{"p": 69300.17, "v": 111, "t": "MDAMB1-231_top"}]}, "mark": {"type": "text", "color": "#000000", "font": "DejaVu Sans Mono", "fontSize": 20}, "encoding": {"text": {"field": "t"}}},
  {"data": {"values": [{"p": 69313.12, "v": 46.6, "t": "ERα -ve"}]}, "mark": {"type": "text", "color": "#111111", "font": "Lato", "fontSize": 27}, "encoding": {"text": {"field": "t"}}}
 ]},
{"encoding": {"y": {"field": "v", "type": "quantitative", "scale": {"domain": [0, 100], "range": [1390.1, 1469.1]}, "axis": null}},
 "layer": [
  {"data": {"name": "md_b"}, "mark": {"type": "area", "color": "#c5c5f0"}, "encoding": {"y2": {"datum": 0}}},
  {"data": {"values": [{"p": 69285.32, "p2": 69315.05, "v": 0}]}, "mark": {"type": "rule", "color": "#a8a8e8", "strokeWidth": 2}, "encoding": {"x2": {"field": "p2"}}},
  {"data": {"values": [{"p": 69300.17, "v": -12.5, "t": "MDAMB1-231_bottom"}]}, "mark": {"type": "text", "color": "#a3a3e6", "font": "DejaVu Sans Mono", "fontSize": 20}, "encoding": {"text": {"field": "t"}}}
 ]},
{"encoding": {"y": {"field": "v", "type": "quantitative", "scale": {"domain": [0, 100], "range": [1567.9, 1488.9]}, "axis": null}},
 "layer": [
  {"data": {"name": "t4_t"}, "mark": {"type": "area", "color": "#7fd1b3"}, "encoding": {"y2": {"datum": 0}}},
  {"data": {"values": [{"p": 69285.32, "p2": 69315.05, "v": 0}]}, "mark": {"type": "rule", "color": "#7fd1b3", "strokeWidth": 2}, "encoding": {"x2": {"field": "p2"}}},
  {"data": {"values": [{"p": 69300.17, "v": 111, "t": "T47D_top"}]}, "mark": {"type": "text", "color": "#86d3b9", "font": "DejaVu Sans Mono", "fontSize": 20}, "encoding": {"text": {"field": "t"}}},
  {"data": {"values": [{"p": 69313.19, "v": 35.8, "t": "ERα +ve"}]}, "mark": {"type": "text", "color": "#111111", "font": "Lato", "fontSize": 27}, "encoding": {"text": {"field": "t"}}}
 ]},
{"encoding": {"y": {"field": "v", "type": "quantitative", "scale": {"domain": [0, 100], "range": [1590.5, 1669.5]}, "axis": null}},
 "layer": [
  {"data": {"name": "t4_b"}, "mark": {"type": "area", "color": "#bfe8da"}, "encoding": {"y2": {"datum": 0}}},
  {"data": {"values": [{"p": 69285.32, "p2": 69315.05, "v": 0}]}, "mark": {"type": "rule", "color": "#a3dcc8", "strokeWidth": 2}, "encoding": {"x2": {"field": "p2"}}},
  {"data": {"values": [{"p": 69300.17, "v": -12.5, "t": "T47D_bottom"}]}, "mark": {"type": "text", "color": "#86d3b9", "font": "DejaVu Sans Mono", "fontSize": 20}, "encoding": {"text": {"field": "t"}}}
 ]},
{"encoding": {"y": {"field": "v", "type": "quantitative", "scale": {"domain": [0, 1], "range": [1699.5, 1737.5]}, "axis": null}},
 "layer": [
  {"data": {"values": [{"p": 69296.56, "p2": 69306.97, "v": 0}, {"p": 69292.43, "p2": 69294.53, "v": 1}]}, "mark": {"type": "rule", "color": "#000000", "strokeWidth": 2.5}, "encoding": {"x2": {"field": "p2"}}},
  {"data": {"values": [{"p": 69296.56, "v": -0.17, "v2": 0.17}, {"p": 69306.97, "v": -0.17, "v2": 0.17}]}, "mark": {"type": "rule", "color": "#000000", "strokeWidth": 2}, "encoding": {"y2": {"field": "v2"}}},
  {"data": {"values": [{"p": 69295.074, "p2": 69296.04, "v": 0}, {"p": 69302.36, "p2": 69302.45, "v": 0}, {"p": 69305.35, "p2": 69306.31, "v": 0}, {"p": 69306.41, "p2": 69306.63, "v": 0}]}, "mark": {"type": "rule", "color": "#000000", "strokeWidth": 10}, "encoding": {"x2": {"field": "p2"}}},
  {"data": {"values": [{"p": 69290.47, "p2": 69292.43, "v": 1}, {"p": 69294.53, "p2": 69296.49, "v": 1}, {"p": 69297.59, "p2": 69298.22, "v": 1}, {"p": 69299.58, "p2": 69300.35, "v": 1}]}, "mark": {"type": "rule", "color": "#000000", "strokeWidth": 12}, "encoding": {"x2": {"field": "p2"}}},
  {"data": {"values": [{"p": 69300.17, "v": -0.49, "t": "+ve strand MCF7v2"}, {"p": 69300.17, "v": 0.52, "t": "-ve strand mcf7 v2"}]}, "mark": {"type": "text", "color": "#111111", "font": "DejaVu Sans Mono", "fontSize": 20}, "encoding": {"text": {"field": "t"}}},
  {"data": {"values": [{"p": 69313.26, "v": -0.16, "t": "Assembled"}]}, "mark": {"type": "text", "color": "#111111", "font": "Lato", "fontSize": 27}, "encoding": {"text": {"field": "t"}}}
 ]}
],
"resolve": {"scale": {"y": "independent"}}
}
